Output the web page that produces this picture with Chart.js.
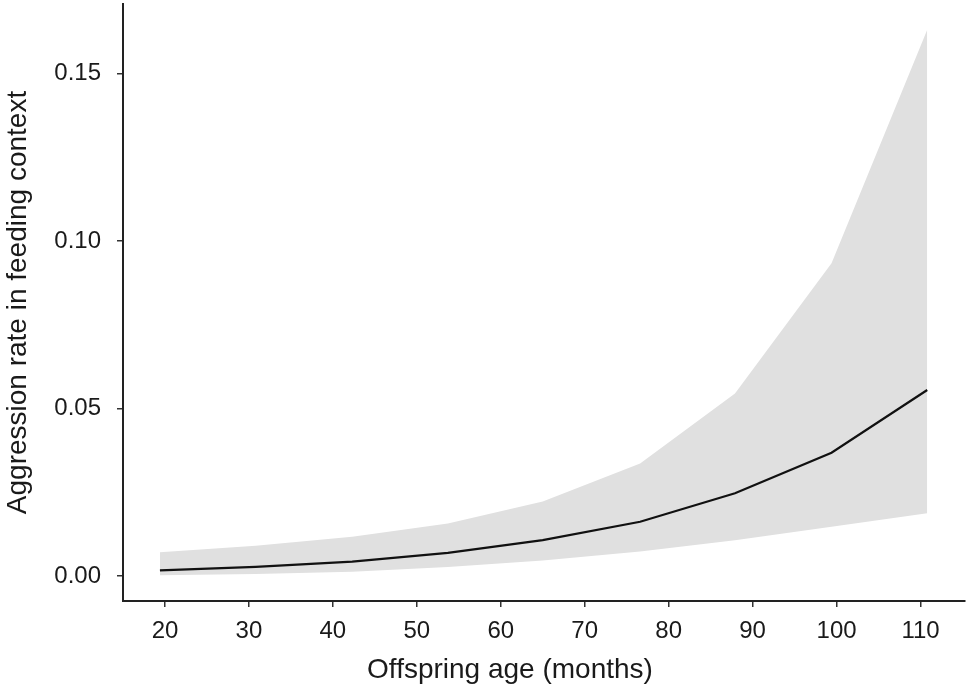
<!DOCTYPE html>
<html>
<head>
<meta charset="utf-8">
<script src="https://cdn.jsdelivr.net/npm/chart.js@4"></script>
<style>
html,body{margin:0;padding:0;background:#fff;}
#wrap{width:968px;height:692px;}
</style>
</head>
<body>
<div id="wrap"><canvas id="c" width="968" height="692"></canvas></div>
<script>
const ages = [19.4, 30.8, 42.3, 53.7, 65.0, 76.6, 87.9, 99.4, 110.8];
const rateMean = [0.0017, 0.0027, 0.0043, 0.0069, 0.0107, 0.0162, 0.0247, 0.0368, 0.0555];
const rateUpper = [0.0071, 0.0090, 0.0117, 0.0157, 0.0222, 0.0336, 0.0545, 0.0933, 0.1630];
const rateLower = [0.0002, 0.0006, 0.0013, 0.0027, 0.0046, 0.0073, 0.0107, 0.0147, 0.0187];
const xTicks = [20, 30, 40, 50, 60, 70, 80, 90, 100, 110];
const yTicks = [0.00, 0.05, 0.10, 0.15];

const pts = arr => ages.map((a, i) => ({x: a, y: arr[i]}));
const FONT = "'Liberation Sans', Arial, sans-serif";
const ink = '#1a1a1a';

new Chart(document.getElementById('c'), {
  type: 'line',
  data: {
    datasets: [
      {label: 'mean', data: pts(rateMean), order: 0, borderWidth: 2.2, pointRadius: 0, fill: false, borderColor: '#111'},
      {label: 'upper', data: pts(rateUpper), order: 1, borderWidth: 0, pointRadius: 0, fill: '+1', backgroundColor: '#e0e0e0', borderColor: 'rgba(0,0,0,0)'},
      {label: 'lower', data: pts(rateLower), order: 2, borderWidth: 0, pointRadius: 0, fill: false, borderColor: 'rgba(0,0,0,0)'}
    ]
  },
  options: {
    responsive: false,
    animation: false,
    layout: {padding: {left: 0, top: 4, right: 3, bottom: 0}},
    plugins: {legend: {display: false}, tooltip: {enabled: false}},
    scales: {
      x: {
        type: 'linear', min: 15, max: 115.3,
        afterBuildTicks: s => { s.ticks = xTicks.map(v => ({value: v})); },
        afterFit: s => {
          s.height = 91;
          s.paddingLeft = 0; s.paddingRight = 0;
          if (!s._shiftPatched) {
            const orig = s.drawTitle;
            s.drawTitle = function () {
              const l = this.left, r = this.right;
              this.left = l - 34; this.right = r - 34;
              orig.apply(this, arguments);
              this.left = l; this.right = r;
            };
            s._shiftPatched = true;
          }
        },
        grid: {display: true, drawOnChartArea: false, drawTicks: true, tickLength: 6, color: '#333', lineWidth: 1.5},
        border: {display: true, color: '#222', width: 2},
        ticks: {color: ink, font: {family: FONT, size: 24}, padding: 10, maxRotation: 0, autoSkip: false, callback: v => String(v)},
        title: {display: true, text: 'Offspring age (months)', color: ink, font: {family: FONT, size: 28}, padding: {top: 0, bottom: 5}}
      },
      y: {
        type: 'linear', min: -0.00746, max: 0.1707,
        afterBuildTicks: s => { s.ticks = yTicks.map(v => ({value: v})); },
        afterFit: s => { s.width = 123; s.paddingTop = 0; s.paddingBottom = 0; },
        grid: {display: true, drawOnChartArea: false, drawTicks: true, tickLength: 6, color: '#333', lineWidth: 1.5},
        border: {display: true, color: '#222', width: 2},
        ticks: {color: ink, font: {family: FONT, size: 24}, padding: 16, autoSkip: false, callback: v => v.toFixed(2)},
        title: {display: true, text: 'Aggression rate in feeding context', color: ink, font: {family: FONT, size: 28}, padding: {top: 1, bottom: 0}}
      }
    }
  }
});
</script>
</body>
</html>
